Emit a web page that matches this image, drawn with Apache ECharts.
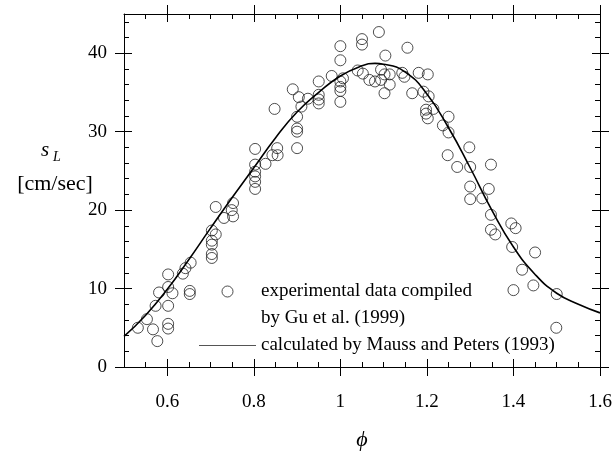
<!DOCTYPE html>
<html>
<head>
<meta charset="utf-8">
<script src="https://cdn.jsdelivr.net/npm/echarts@6/dist/echarts.min.js"></script>
<style>
html,body{margin:0;padding:0;background:#fff}
#chart{width:615px;height:452px}
</style>
</head>
<body>
<div id="chart"></div>
<script>
// Measured laminar burning velocities: equivalence ratio (phi) and s_L [cm/sec]
const expPhi = [
  0.532,0.553,0.567,0.577,0.573,0.581,0.602,0.602,0.612,0.602,0.602,0.602,
  0.636,0.642,0.654,0.652,0.652,0.703,0.712,0.703,0.703,0.703,0.703,0.712,
  0.731,0.752,0.749,0.752,
  0.803,0.803,0.803,0.803,0.803,0.803,0.827,0.843,0.855,0.854,0.848,
  0.890,0.904,0.925,0.910,0.900,0.900,0.900,0.900,
  0.950,0.950,0.950,0.950,0.980,
  1.000,1.000,1.000,1.000,1.000,1.000,1.006,
  1.050,1.050,1.089,1.040,1.052,1.067,1.080,1.094,1.094,1.102,1.114,1.114,
  1.102,1.104,1.155,
  1.143,1.148,1.181,1.202,1.166,1.192,1.204,1.198,1.215,1.198,1.202,
  1.250,1.237,1.250,1.248,1.298,1.270,1.300,1.348,1.300,1.343,1.300,1.328,
  1.348,1.348,1.358,1.395,1.405,1.397,1.400,1.420,1.450,1.446,1.500,1.499
];
const expSL = [
  5.0,6.1,4.8,3.3,7.8,9.5,11.8,10.2,9.4,7.8,5.5,4.9,
  11.9,12.6,13.3,9.7,9.3,17.4,16.9,16.1,15.6,14.4,13.9,20.4,
  19.0,20.9,20.0,19.2,
  27.8,25.8,24.9,24.3,23.6,22.7,25.9,27.0,27.0,27.9,32.9,
  35.4,34.4,34.2,33.2,31.9,30.4,30.0,27.9,
  36.4,34.7,34.1,33.6,37.1,
  40.9,39.1,36.4,35.7,35.2,33.8,36.8,
  41.8,41.1,42.7,37.8,37.4,36.6,36.4,37.9,36.6,37.3,37.3,36.0,
  34.9,39.7,40.7,
  37.5,37.0,37.5,37.3,34.9,35.1,34.5,32.8,32.9,32.3,31.7,
  31.9,30.8,29.9,27.0,28.0,25.5,25.5,25.8,23.0,22.7,21.4,21.5,
  19.4,17.5,16.9,18.3,17.7,15.3,9.8,12.4,14.6,10.4,9.3,5.0
];

// Calculated burning velocity curve
const calcPhi = [0.50,0.55,0.60,0.65,0.70,0.75,0.80,0.85,0.90,0.95,1.00,1.05,
                 1.08,1.10,1.15,1.20,1.25,1.30,1.35,1.40,1.45,1.50,1.55,1.60];
const calcSL  = [3.9,6.6,9.9,13.7,17.7,21.6,25.4,29.2,32.5,35.0,37.1,38.4,
                 38.7,38.6,37.6,34.8,30.5,25.4,20.0,15.3,11.8,9.4,8.0,6.9];

const xTickLabels = [0.6, 0.8, 1, 1.2, 1.4, 1.6];
const yTickLabels = [0, 10, 20, 30, 40];

const nameExp1 = 'experimental data compiled';
const nameExp2 = 'by Gu et al. (1999)';
const nameCalc = 'calculated by Mauss and Peters (1993)';

const SERIF = 'Liberation Serif';
const INK = '#000';

const expPoints = expPhi.map((p, i) => [p, expSL[i]]);
const calcPoints = calcPhi.map((p, i) => [p, calcSL[i]]);

function onGrid(v, step) {
  return Math.abs(v / step - Math.round(v / step)) < 1e-6;
}

// x axes: one carrying the frame line and short inward minor ticks,
// one (shifted inside) carrying the long major ticks that cross the frame
function xMinor(pos, labels) {
  return {
    type: 'value', position: pos, min: 0.5, max: 1.6, interval: 0.05,
    axisLine: {show: true, onZero: false, lineStyle: {color: INK, width: 1}},
    axisTick: {show: true, inside: true, length: 5, lineStyle: {color: INK, width: 1}},
    axisLabel: labels ? {
      show: true, customValues: xTickLabels, margin: 26,
      fontFamily: SERIF, fontSize: 19, color: INK,
      formatter: v => onGrid(v, 0.2) ? String(Math.round(v * 10) / 10) : ''
    } : {show: false},
    splitLine: {show: false}
  };
}
function xMajor(pos) {
  return {
    type: 'value', position: pos, offset: -8, min: 0.5, max: 1.6,
    axisLine: {show: false, onZero: false},
    axisTick: {show: true, inside: false, length: 17, customValues: xTickLabels,
               lineStyle: {color: INK, width: 1}},
    axisLabel: {show: false},
    splitLine: {show: false}
  };
}
function yMinor(pos, labels) {
  return {
    type: 'value', position: pos, min: 0, max: 45, interval: 2,
    axisLine: {show: true, onZero: false, lineStyle: {color: INK, width: 1}},
    axisTick: {show: true, inside: true, length: 5, lineStyle: {color: INK, width: 1}},
    axisLabel: labels ? {
      show: true, customValues: yTickLabels, margin: 17,
      fontFamily: SERIF, fontSize: 19, color: INK,
      formatter: v => onGrid(v, 10) ? String(Math.round(v)) : ''
    } : {show: false},
    splitLine: {show: false}
  };
}
function yMajor(pos) {
  return {
    type: 'value', position: pos, offset: -8, min: 0, max: 45,
    axisLine: {show: false, onZero: false},
    axisTick: {show: true, inside: false, length: 17, customValues: yTickLabels,
               lineStyle: {color: INK, width: 1}},
    axisLabel: {show: false},
    splitLine: {show: false}
  };
}

const chart = echarts.init(document.getElementById('chart'), null, {renderer: 'canvas'});

chart.setOption({
  animation: false,
  backgroundColor: '#fff',
  grid: {left: 124, right: 15, top: 14, bottom: 85, containLabel: false},
  xAxis: [xMinor('bottom', true), xMajor('bottom'), xMinor('top', false), xMajor('top')],
  yAxis: [yMinor('left', true), yMajor('left'), yMinor('right', false), yMajor('right')],
  legend: {
    orient: 'vertical', left: 199, top: 281, padding: 0,
    itemWidth: 57, itemHeight: 11, itemGap: 6,
    selectedMode: false,
    textStyle: {fontFamily: SERIF, fontSize: 19, color: INK, lineHeight: 21},
    data: [
      {name: nameExp1, icon: 'circle',
       itemStyle: {color: 'rgba(0,0,0,0)', borderColor: '#222', borderWidth: 1}},
      {name: nameExp2, icon: 'none'},
      {name: nameCalc, icon: 'path://M0,5 L57,5 L57,6 L0,6 Z',
       itemStyle: {color: '#555', borderWidth: 0}}
    ]
  },
  series: [
    {
      name: nameExp1, type: 'scatter', xAxisIndex: 0, yAxisIndex: 0,
      data: expPoints, symbol: 'circle', symbolSize: 11,
      itemStyle: {color: 'rgba(0,0,0,0)', borderColor: '#222', borderWidth: 1},
      emphasis: {disabled: true}, z: 3
    },
    {
      name: nameExp2, type: 'scatter', xAxisIndex: 0, yAxisIndex: 0,
      data: [], itemStyle: {color: 'rgba(0,0,0,0)', borderWidth: 0}
    },
    {
      name: nameCalc, type: 'line', xAxisIndex: 0, yAxisIndex: 0,
      data: calcPoints, smooth: true, symbol: 'none', showSymbol: false,
      itemStyle: {color: INK},
      lineStyle: {color: INK, width: 1.6},
      emphasis: {disabled: true}, z: 4
    }
  ],
  graphic: [
    {type: 'text', x: 45, y: 150.5,
     style: {text: 's', fontFamily: SERIF, fontStyle: 'italic', fontSize: 21, fill: INK,
             textAlign: 'center', textVerticalAlign: 'middle'}},
    {type: 'text', x: 57, y: 157.5,
     style: {text: 'L', fontFamily: SERIF, fontStyle: 'italic', fontSize: 14, fill: INK,
             textAlign: 'center', textVerticalAlign: 'middle'}},
    {type: 'text', x: 55, y: 184,
     style: {text: '[cm/sec]', fontFamily: SERIF, fontSize: 22, fill: INK,
             textAlign: 'center', textVerticalAlign: 'middle'}},
    {type: 'text', x: 362, y: 440,
     style: {text: 'ϕ', fontFamily: SERIF, fontStyle: 'italic', fontSize: 22, fill: INK,
             textAlign: 'center', textVerticalAlign: 'middle'}}
  ]
});
</script>
</body>
</html>
